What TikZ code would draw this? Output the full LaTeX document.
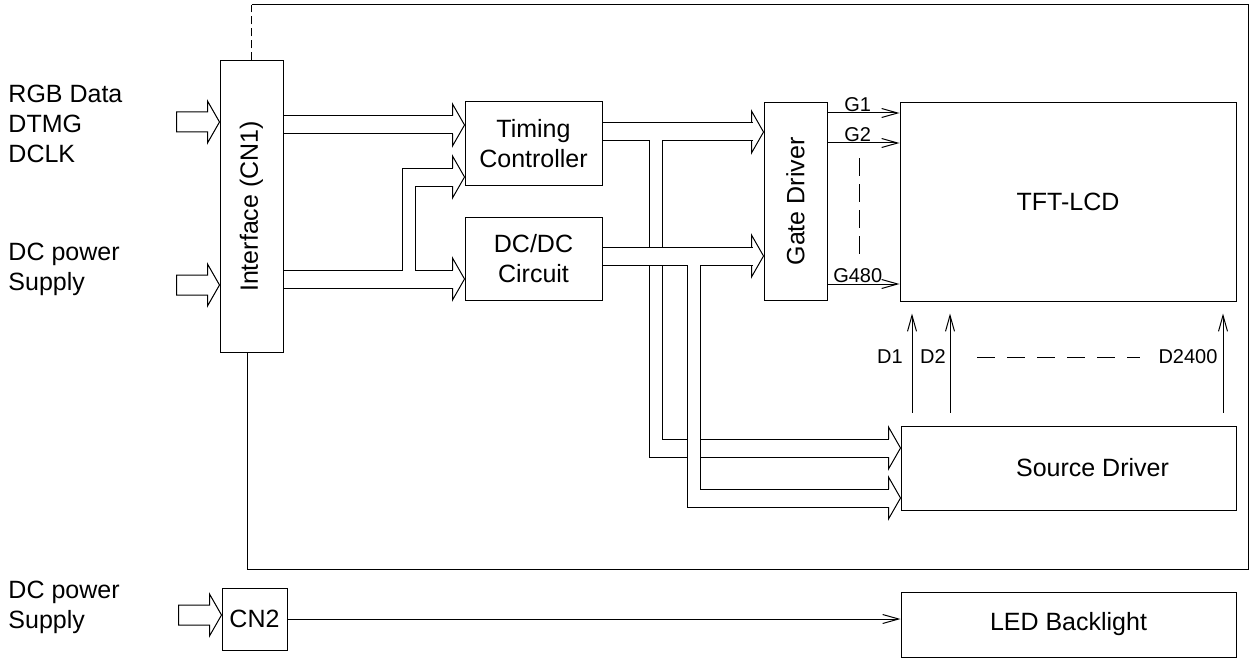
\documentclass[tikz,border=0pt]{standalone}
\usepackage{fontspec}
\setmainfont{Liberation Sans}
\usepackage{graphicx}
\usetikzlibrary{arrows.meta, positioning}
\newcommand\bigtxt{\fontsize{25}{30}\selectfont}
\newcommand\lbltxt{\fontsize{20}{24}\selectfont}

\begin{document}
\begin{tikzpicture}[x=1pt, y=-1pt, line width=1pt,
    box/.style={draw, inner sep=0pt, align=center, font=\bigtxt},
    sig/.style={-{Straight Barb[length=16pt, width=9pt]}},
    lbl/.style={font=\lbltxt, inner sep=1pt},
    hhead/.pic={\draw (-12,-9) -- (-12,-21) -- (0,0) -- (-12,21) -- (-12,9);},
    inarrow/.pic={\draw (0,0) -- (-12,-21) -- (-12,-10) -- (-43,-10) -- (-43,10) -- (-12,10) -- (-12,21) -- cycle;}]

    \useasboundingbox (0,0) rectangle (1250,658);

    % Blocks
    \node at (251.5, 206.5) [box, minimum width=63pt, minimum height=291pt] (ifc) {\rotatebox{90}{Interface (CN1)}};
    \node at (533.5, 143.5) [box, minimum width=137pt, minimum height=83pt] (tc) {Timing\\Controller};
    \node at (533.5, 258.5) [box, minimum width=137pt, minimum height=83pt] (dc) {DC/DC\\Circuit};
    \node at (795.5, 201.5) [box, minimum width=63pt, minimum height=197pt] (gd) {\rotatebox{90}{Gate Driver}};
    \node at (1068, 202) [box, minimum width=336pt, minimum height=198pt] (lcd) {TFT-LCD};
    \node at (1068.5, 468) [box, minimum width=335pt, minimum height=84pt] (sd) {\hspace*{48pt}Source Driver};
    \node at (254.5, 619) [box, minimum width=65pt, minimum height=62pt] (cn) {CN2};
    \node at (1068.5, 624.5) [box, minimum width=335pt, minimum height=65pt] (led) {LED Backlight};

    % Inputs
    \node at (8, 124) [anchor=west, align=left, font=\bigtxt, inner sep=0pt] (rgb) {RGB Data\\DTMG\\DCLK};
    \node at (8, 269) [anchor=west, align=left, font=\bigtxt, inner sep=0pt] (pw) {DC power\\Supply};
    \node at (8, 607) [anchor=west, align=left, font=\bigtxt, inner sep=0pt] (pwled) {DC power\\Supply};
    \pic at (ifc.west |- 0,122) {inarrow};
    \pic at (ifc.west |- 0,285) {inarrow};
    \pic at (cn.west |- 0,615) {inarrow};

    % Frame
    \draw[dash pattern=on 8pt off 4pt] (ifc.north) -- (ifc.north |- 0,5);
    \draw (ifc.north |- 0,5) -- (1248,5) -- (1248,569) -- (247,569) -- (ifc.south -| 247,0);

    % Interface buses
    \draw (ifc.east |- 0,116) -- (453,116);
    \draw (ifc.east |- 0,134) -- (453,134);
    \pic at (tc.west |- 0,125) {hhead};
    \draw (ifc.east |- 0,270) -- (402,270) -- (402,168) -- (453,168);
    \draw (453,186) -- (415,186) -- (415,270) -- (453,270);
    \draw (ifc.east |- 0,288) -- (453,288);
    \pic at (tc.west |- 0,177) {hhead};
    \pic at (dc.west |- 0,279) {hhead};

    % Timing bus
    \draw (tc.east |- 0,123) -- (753,123);
    \draw (tc.east |- 0,141) -- (649,141) -- (649,247);
    \draw (753,141) -- (662,141) -- (662,247);
    \pic at (gd.west |- 0,132) {hhead};
    \draw (649,265) -- (649,457) -- (687,457);
    \draw (700,457) -- (889,457);
    \draw (662,265) -- (662,439) -- (687,439);
    \draw (700,439) -- (889,439);
    \pic at (sd.west |- 0,448) {hhead};

    % DC/DC bus
    \draw (dc.east |- 0,247) -- (753,247);
    \draw (dc.east |- 0,265) -- (687,265) -- (687,507) -- (889,507);
    \draw (753,265) -- (700,265) -- (700,489) -- (889,489);
    \pic at (gd.west |- 0,256) {hhead};
    \pic at (sd.west |- 0,498) {hhead};

    % Gate lines
    \draw[sig] (gd.east |- 0,113) -- (lcd.west |- 0,113) node[lbl, pos=0.42, above] (g1) {G1};
    \draw[sig] (gd.east |- 0,143) -- (lcd.west |- 0,143) node[lbl, pos=0.42, above] (g2) {G2};
    \draw[sig] (gd.east |- 0,284) -- (lcd.west |- 0,284) node[lbl, pos=0.42, above] (g480) {G480};
    \draw[dash pattern=on 18pt off 8pt] (859,158) -- (859,257);

    % Data lines
    \draw[sig, shorten <=13pt, shorten >=12pt] (sd.north -| 912,0) -- (lcd.south -| 912,0);
    \draw[sig, shorten <=13pt, shorten >=12pt] (sd.north -| 950,0) -- (lcd.south -| 950,0);
    \draw[sig, shorten <=13pt, shorten >=12pt] (sd.north -| 1223,0) -- (lcd.south -| 1223,0);
    \node at (890, 357) [lbl] (d1) {D1};
    \node at (933, 357) [lbl] (d2) {D2};
    \node at (1188, 357) [lbl] (dn) {D2400};
    \draw[dash pattern=on 18pt off 12pt] (977,357) -- (1140,357);

    % Backlight
    \draw[sig] (cn.east) -- (cn.east -| led.west);

\end{tikzpicture}
\end{document}
